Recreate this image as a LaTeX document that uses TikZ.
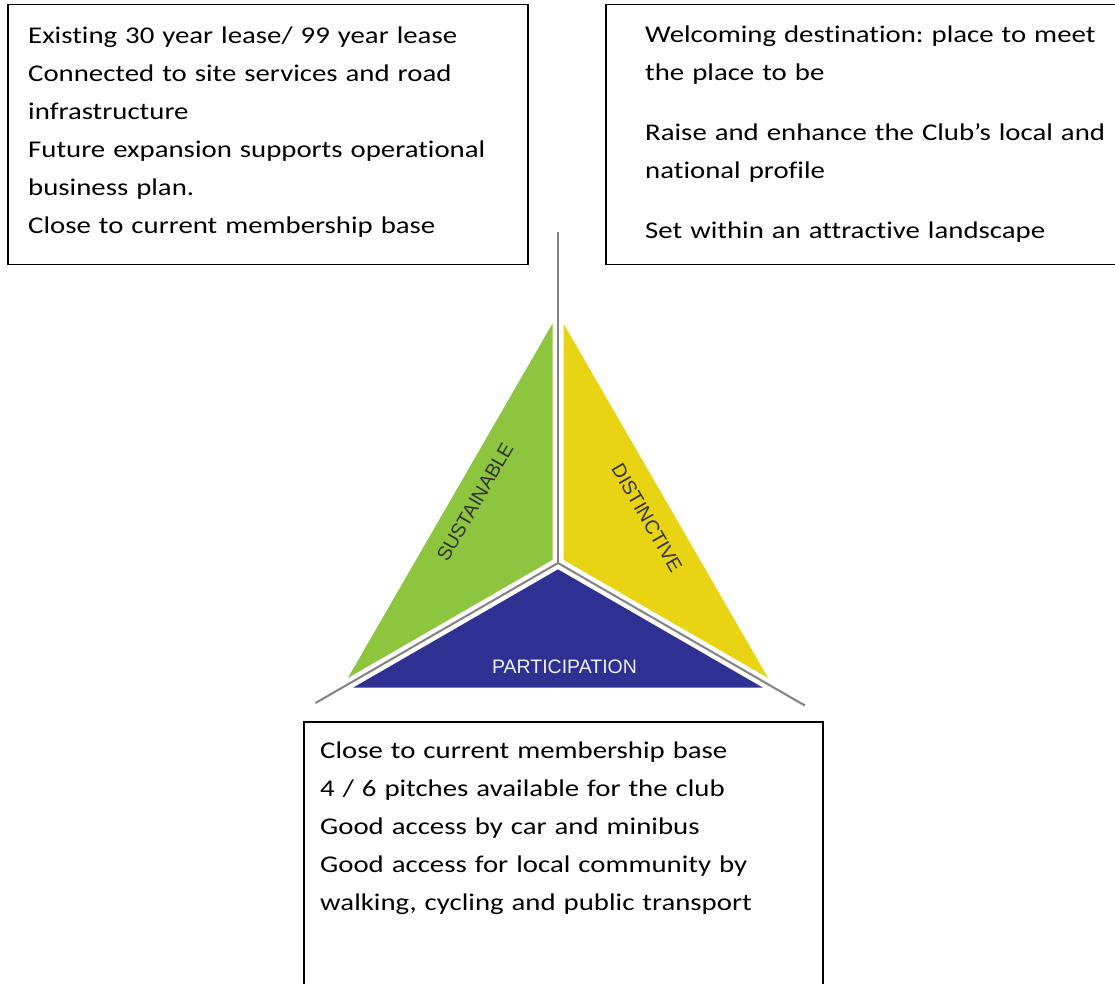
\documentclass[tikz,border=0pt]{standalone}
\usepackage{fontspec}
\setmainfont{Carlito}[FakeStretch=1.2, Ligatures=NoCommon]
\newfontfamily\labelfont{Liberation Sans}
\usepackage{tikz}
\frenchspacing

\definecolor{sustgreen}{RGB}{141,197,63}
\definecolor{distyellow}{RGB}{233,212,20}
\definecolor{partblue}{RGB}{46,49,146}
\definecolor{spokegray}{RGB}{130,130,130}

\begin{document}
\begin{tikzpicture}[x=1pt, y=-1pt,
    box/.style={draw=black, line width=1.5pt, anchor=north west, inner sep=0pt},
    boxtext/.style={anchor=base west, inner sep=0pt, align=left, text width=520pt, font=\fontsize{24}{38}\selectfont},
    spoke/.style={draw=spokegray, line width=2pt},
    pillar/.style={inner sep=0pt, font=\labelfont\fontsize{19.5}{20}\selectfont}]
    \useasboundingbox (0,0) rectangle (1115,983);
    \clip (0,0) rectangle (1115,983);

    \node[box, minimum width=520pt, minimum height=260pt] (site) at (7,3.5) {};
    \node[box, minimum width=520pt, minimum height=260pt] (place) at (605,3.5) {};
    \node[box, minimum width=519pt, minimum height=290pt] (access) at (303,721) {};

    \node[boxtext] (sitetext) at (28,43) {Existing 30 year lease/ 99 year lease\\
        Connected to site services and road\\ infrastructure\\
        Future expansion supports operational\\ business plan.\\
        Close to current membership base};
    \node[boxtext] (placetext) at (645,42.5) {Welcoming destination: place to meet\\ the place to be\\[22pt]
        Raise and enhance the Club’s local and\\ national profile\\[22pt]
        Set within an attractive landscape};
    \node[boxtext] (accesstext) at (320,758) {Close to current membership base\\
        4 / 6 pitches available for the club\\
        Good access by car and minibus\\
        Good access for local community by\\
        walking, cycling and public transport};

    \begin{scope}[shift={(558,563)}, yscale=-1]
        \coordinate (c) at (0,0);
        \coordinate (up) at (90:331);
        \coordinate (left) at (210:280);
        \coordinate (right) at (330:285);
        \fill[sustgreen] (150:6.35) -- (-5.5,239.47) -- (-210.14,-114.97) -- cycle;
        \fill[distyellow] (30:6.35) -- (5.5,239.47) -- (210.14,-114.97) -- cycle;
        \fill[partblue] (270:6.35) -- (-204.64,-124.5) -- (204.64,-124.5) -- cycle;
        \draw[spoke] (c) -- (up);
        \draw[spoke] (c) -- (left);
        \draw[spoke] (c) -- (right);
        \node[pillar, rotate=60, text=black!80] (sust) at (-83,61) {SUSTAINABLE};
        \node[pillar, rotate=-60, text=black!80] (dist) at (89,45) {DISTINCTIVE};
        \node[pillar, text=white!92!partblue] (part) at (6.5,-104) {PARTICIPATION};
    \end{scope}
\end{tikzpicture}
\end{document}
